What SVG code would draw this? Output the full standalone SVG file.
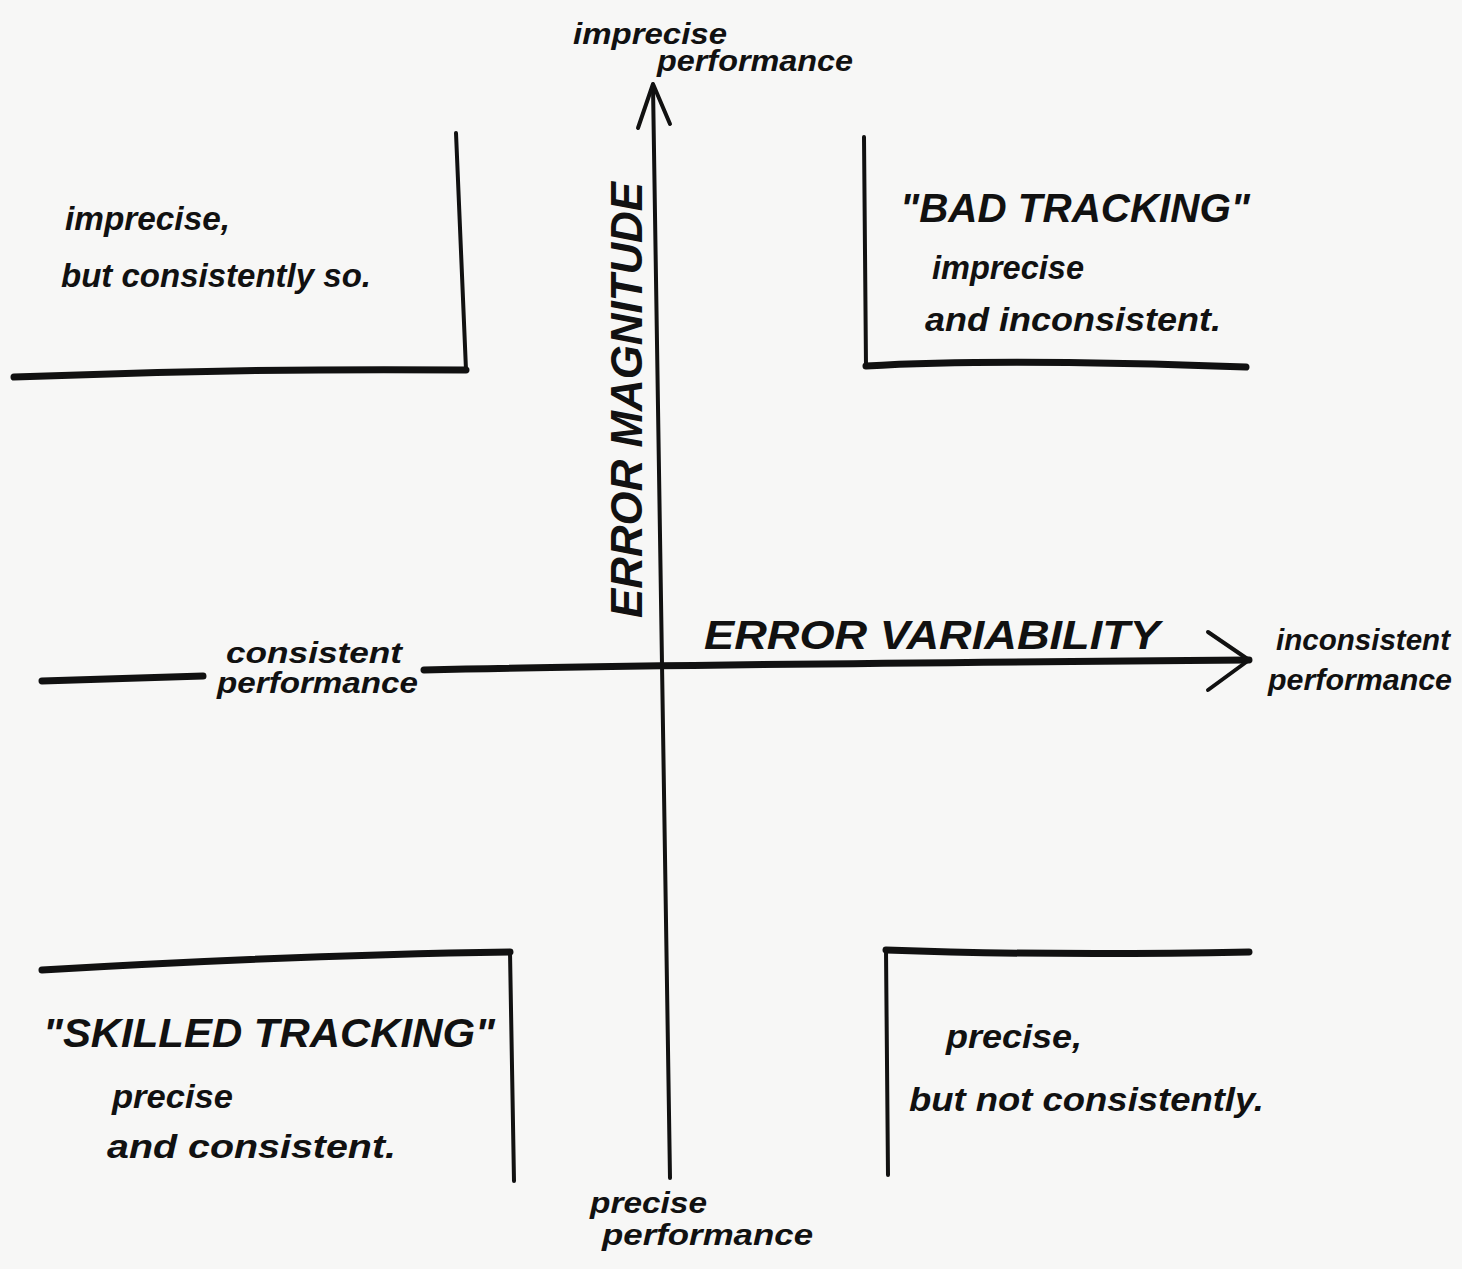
<svg xmlns="http://www.w3.org/2000/svg" width="1462" height="1269" viewBox="0 0 1462 1269">
<style>
.bg{fill:#f7f7f6}
.ln{fill:none;stroke:#111;stroke-linecap:round;stroke-linejoin:round}
.thin{stroke-width:4}
.thick{stroke-width:7}
.t{font-family:"Liberation Sans Narrow","Liberation Sans",sans-serif;font-style:italic;font-weight:bold;fill:#111;font-size:34px}
.s{font-size:29px}
.cap{font-family:"Liberation Sans Narrow","Liberation Sans",sans-serif;font-style:italic;font-weight:bold;fill:#111;font-size:40px}
</style>
<rect class="bg" x="0" y="0" width="1462" height="1269"/>
<g id="connectors">
<path class="ln thin" d="M670,1178 L653,86"/>
<path class="ln thin" d="M638,128 L653,84 L670,124"/>
<path class="ln thick" d="M42,681 L203,676"/>
<path class="ln thick" d="M424,670 Q700,664 1249,660"/>
<path class="ln thin" d="M1208,632 L1249,660 L1208,690"/>
</g>
<g id="axis-labels">
<text class="cap" style="font-size:44px" transform="translate(642,400) rotate(-90)" text-anchor="middle" textLength="436" lengthAdjust="spacingAndGlyphs">ERROR MAGNITUDE</text>
<text class="cap" x="704" y="649" textLength="456" lengthAdjust="spacingAndGlyphs">ERROR VARIABILITY</text>
<text class="t s" x="573" y="44" textLength="154" lengthAdjust="spacingAndGlyphs">imprecise</text>
<text class="t s" x="657" y="71" textLength="196" lengthAdjust="spacingAndGlyphs">performance</text>
<text class="t s" x="226" y="663" textLength="176" lengthAdjust="spacingAndGlyphs">consistent</text>
<text class="t s" x="217" y="693" textLength="201" lengthAdjust="spacingAndGlyphs">performance</text>
<text class="t s" x="1276" y="650" textLength="174" lengthAdjust="spacingAndGlyphs">inconsistent</text>
<text class="t s" x="1268" y="690" textLength="184" lengthAdjust="spacingAndGlyphs">performance</text>
<text class="t s" x="590" y="1213" textLength="117" lengthAdjust="spacingAndGlyphs">precise</text>
<text class="t s" x="602" y="1245" textLength="211" lengthAdjust="spacingAndGlyphs">performance</text>
</g>
<g id="top-left">
<path class="ln thin" d="M456,133 L466,370"/>
<path class="ln thick" d="M14,377 Q240,368 466,370"/>
<text class="t" x="65" y="230" textLength="165" lengthAdjust="spacingAndGlyphs">imprecise,</text>
<text class="t" x="61" y="287" textLength="310" lengthAdjust="spacingAndGlyphs">but consistently so.</text>
</g>
<g id="top-right">
<path class="ln thin" d="M864,137 L866,366"/>
<path class="ln thick" d="M866,366 Q1000,358 1246,367"/>
<text class="cap" x="900" y="222" textLength="350" lengthAdjust="spacingAndGlyphs">"BAD TRACKING"</text>
<text class="t" x="932" y="279" textLength="152" lengthAdjust="spacingAndGlyphs">imprecise</text>
<text class="t" x="925" y="331" textLength="296" lengthAdjust="spacingAndGlyphs">and inconsistent.</text>
</g>
<g id="bottom-left">
<path class="ln thick" d="M42,970 Q300,955 510,952"/>
<path class="ln thin" d="M510,952 L514,1181"/>
<text class="cap" x="43" y="1047" textLength="452" lengthAdjust="spacingAndGlyphs">"SKILLED TRACKING"</text>
<text class="t" x="112" y="1108" textLength="121" lengthAdjust="spacingAndGlyphs">precise</text>
<text class="t" x="107" y="1158" textLength="289" lengthAdjust="spacingAndGlyphs">and consistent.</text>
</g>
<g id="bottom-right">
<path class="ln thick" d="M886,950 Q1050,956 1249,952"/>
<path class="ln thin" d="M886,950 L888,1175"/>
<text class="t" x="946" y="1048" textLength="136" lengthAdjust="spacingAndGlyphs">precise,</text>
<text class="t" x="909" y="1111" textLength="355" lengthAdjust="spacingAndGlyphs">but not consistently.</text>
</g>
</svg>
